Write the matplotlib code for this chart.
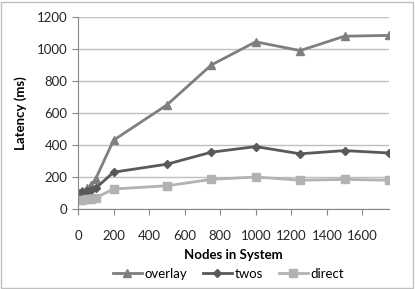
import matplotlib
matplotlib.use("Agg")
import matplotlib.pyplot as plt
from matplotlib.patches import Rectangle

plt.rcParams['font.family'] = ['Lato', 'DejaVu Sans']

## Data
nodes = [10, 25, 50, 75, 100, 200, 500, 750, 1000, 1250, 1500, 1750]
overlay = [100, 110, 130, 150, 190, 430, 650, 900, 1045, 990, 1080, 1085]
twos = [100, 105, 110, 120, 130, 230, 280, 355, 390, 345, 365, 350]
direct = [55, 57, 60, 65, 70, 125, 145, 185, 200, 180, 185, 180]

xticks = [0, 200, 400, 600, 800, 1000, 1200, 1400, 1600]
yticks = [0, 200, 400, 600, 800, 1000, 1200]

fig = plt.figure(figsize=(4.15, 2.89), dpi=100)
ax = fig.add_axes([78/415, 1 - 209/289, (389-78)/415, (209-17)/289])

ax.plot(nodes, overlay, color='#7f7f7f', lw=2, marker='^', ms=6, label='overlay')
ax.plot(nodes, twos, color='#595959', lw=2, marker='D', ms=4, label='twos')
ax.plot(nodes, direct, color='#b2b2b2', lw=2, marker='s', ms=6, label='direct')

ax.set_xlim(0, 1750)
ax.set_ylim(0, 1200)
ax.set_xticks(xticks)
ax.set_yticks(yticks)
ax.grid(axis='y', color='#bfbfbf', lw=1)
ax.set_axisbelow(True)
for s in ['top', 'right']:
    ax.spines[s].set_visible(False)
for s in ['left', 'bottom']:
    ax.spines[s].set_color('#868686')
ax.tick_params(axis='both', colors='#868686', labelcolor='#262626', labelsize=9.5, length=4)
ax.tick_params(axis='x', pad=11)
ax.set_xlabel('Nodes in System', fontsize=9.5, fontweight='bold', labelpad=5)
ax.set_ylabel('Latency (ms)', fontsize=9.5, fontweight='bold', labelpad=7)

fig.legend(loc='lower center', bbox_to_anchor=(0.55, 0.0), ncol=3, frameon=False,
           fontsize=9.5, handlelength=2.2, columnspacing=1.2, handletextpad=0.2,
           borderaxespad=0.3)

fig.patches.append(Rectangle((0.002, 0.004), 0.993, 0.99, transform=fig.transFigure,
                             fill=False, edgecolor='#c0c0c0', lw=1))

fig.savefig('out.png', dpi=100)
